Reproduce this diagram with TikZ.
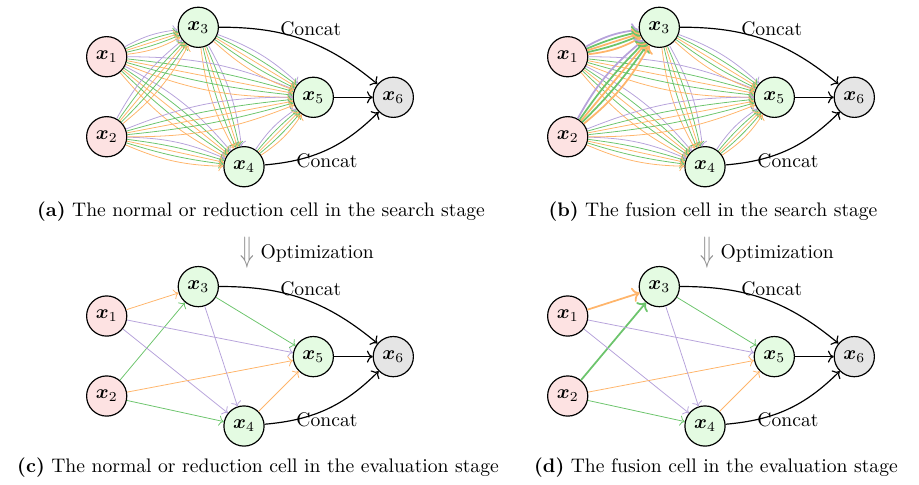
\documentclass[tikz,border=0pt]{standalone}
\usepackage{amsmath,amssymb,bm}
\usepackage{xcolor}
\usepackage{graphicx}
\usepackage{tikz}
\usetikzlibrary{positioning,arrows.meta}
\definecolor{oppurple}{HTML}{B7A3DB}
\definecolor{opgreen}{HTML}{6CC46C}
\definecolor{oporange}{HTML}{FFB56B}
\definecolor{infill}{HTML}{FDE2E2}
\definecolor{midfill}{HTML}{E4FBE2}
\definecolor{outfill}{HTML}{E5E5E5}
\definecolor{optgray}{HTML}{8C8C8C}

\begin{document}
\begin{tikzpicture}[x=0.51pt,y=-0.51pt,
  cellnode/.style={circle,draw,line width=0.6pt,minimum size=20.5pt,inner sep=0pt},
  innode/.style={cellnode,fill=infill},
  midnode/.style={cellnode,fill=midfill},
  outnode/.style={cellnode,fill=outfill},
  opedge/.style={->,line width=0.4pt},
  catedge/.style={->,line width=0.6pt},
  caption/.style={inner sep=0pt}]
\path[use as bounding box] (0,0) rectangle (919,484);

% nodes of the four cells
\foreach \p/\dx/\dy in {a/0/0,b/461/0,c/0/259.3,d/461/259.3}{
  \begin{scope}[shift={(\dx,\dy)}]
    \node[innode] (\p1) at (106.7,56.7) {$\bm{x}_1$};
    \node[innode] (\p2) at (106.7,136.7) {$\bm{x}_2$};
    \node[midnode] (\p3) at (198.3,27.3) {$\bm{x}_3$};
    \node[midnode] (\p4) at (244,166.7) {$\bm{x}_4$};
    \node[midnode] (\p5) at (313.3,97.3) {$\bm{x}_5$};
    \node[outnode] (\p6) at (393.3,97.3) {$\bm{x}_6$};
  \end{scope}
}

% search stage: all candidate operations
\foreach \p in {a,b}
  \foreach \s/\t in {1/4,2/4,3/4,1/5,2/5,3/5,4/5}
    \foreach \c/\b in {oppurple/11,opgreen/5,oporange/0,opgreen/-5,oporange/-11}
      \draw[opedge,\c] (\p\s) to[bend left=\b] (\p\t);
\foreach \p/\w in {a/0.4pt,b/0.9pt}
  \foreach \s in {1,2}
    \foreach \c/\b in {oppurple/11,opgreen/5,oporange/0,opgreen/-5,oporange/-11}
      \draw[opedge,\c,line width=\w] (\p\s) to[bend left=\b] (\p3);

% evaluation stage: selected operations
\foreach \p/\w in {c/0.4pt,d/0.9pt}{
  \draw[opedge,oporange,line width=\w] (\p1) -- (\p3);
  \draw[opedge,opgreen,line width=\w] (\p2) -- (\p3);
}
\foreach \p in {c,d}
  \foreach \s/\t/\c in {1/5/oppurple,1/4/oppurple,2/5/oporange,2/4/opgreen,
                        3/5/opgreen,3/4/oppurple,4/5/oporange}
    \draw[opedge,\c] (\p\s) -- (\p\t);

% output concatenation
\foreach \p in {a,b,c,d}{
  \draw[catedge] (\p3) to[bend left=20]
    node[above,pos=0.52,inner sep=2pt,xshift=2pt] {Concat} (\p6);
  \draw[catedge] (\p5) -- (\p6);
  \draw[catedge] (\p4) to[bend right=20]
    node[below,pos=0.5,inner sep=1.5pt] {Concat} (\p6);
}

% optimization arrows
\node[optgray,inner sep=0pt] (optl) at (247,253) {\scalebox{1.15}[1.8]{$\Downarrow$}};
\node[right=2pt of optl,inner sep=1pt] (optltext) {Optimization};
\node[optgray,inner sep=0pt] (optr) at (707,253) {\scalebox{1.15}[1.8]{$\Downarrow$}};
\node[right=2pt of optr,inner sep=1pt] (optrtext) {Optimization};

% captions
\node[caption] (capa) at (261,212) {\textbf{(a)} The normal or reduction cell in the search stage};
\node[caption] (capb) at (713,212) {\textbf{(b)} The fusion cell in the search stage};
\node[caption] (capc) at (258,468) {\textbf{(c)} The normal or reduction cell in the evaluation stage};
\node[caption] (capd) at (716,468) {\textbf{(d)} The fusion cell in the evaluation stage};

\end{tikzpicture}
\end{document}
